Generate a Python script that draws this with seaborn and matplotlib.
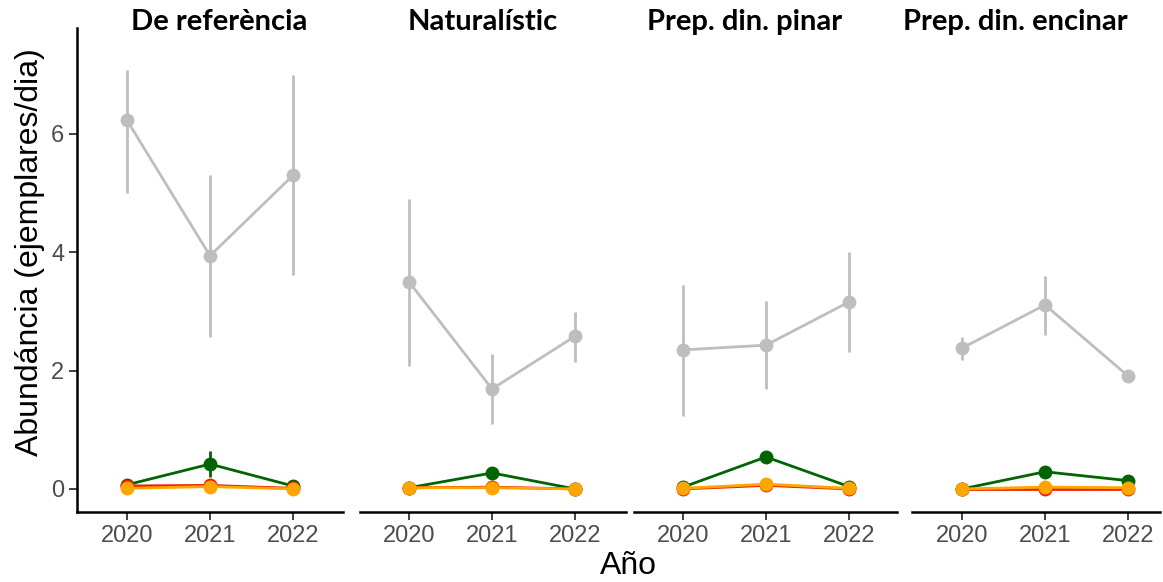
import matplotlib
matplotlib.use("Agg")
import matplotlib.pyplot as plt
import seaborn as sns
import pandas as pd
import numpy as np

years = [2020, 2021, 2022]
panels = ["De referència", "Naturalístic", "Prep. din. pinar", "Prep. din. encinar"]

# gray series (mean, lower, upper)
gray_mean = [[6.23, 3.94, 5.30], [3.50, 1.69, 2.58], [2.35, 2.43, 3.16], [2.38, 3.11, 1.91]]
gray_low = [[5.00, 2.57, 3.61], [2.08, 1.10, 2.15], [1.23, 1.69, 2.31], [2.18, 2.60, 1.85]]
gray_high = [[7.08, 5.30, 7.00], [4.90, 2.28, 2.99], [3.45, 3.18, 4.00], [2.57, 3.60, 1.97]]

green_mean = [[0.07, 0.42, 0.05], [0.02, 0.27, 0.00], [0.03, 0.54, 0.04], [0.00, 0.29, 0.14]]
green_low = [[0.03, 0.20, 0.02], [0.00, 0.20, 0.00], [0.00, 0.46, 0.01], [0.00, 0.24, 0.10]]
green_high = [[0.11, 0.64, 0.08], [0.04, 0.34, 0.01], [0.06, 0.62, 0.07], [0.01, 0.34, 0.18]]

red_mean = [[0.05, 0.06, 0.01], [0.02, 0.03, 0.00], [0.00, 0.06, 0.00], [0.00, 0.00, 0.00]]
orange_mean = [[0.01, 0.04, 0.00], [0.02, 0.02, 0.00], [0.01, 0.08, 0.01], [0.00, 0.03, 0.02]]

sns.set_theme(style="white")
plt.rcParams['font.family'] = ['Liberation Sans', 'DejaVu Sans']

W, H = 1163, 582
fig = plt.figure(figsize=(W / 100, H / 100), dpi=100)

# panel pixel boxes (left, right) and year scale
px_per_year = 83.0
left_px = [77, 360, 634, 912]
right_px = [343, 626, 897, 1160]
first_tick_px = [127, 409, 683, 962]
title_cx_px = [219, 483, 745, 1015]
top_px, bottom_px = 28, 512

series = [
    ("#BEBEBE", gray_mean, gray_low, gray_high),
    ("#006400", green_mean, green_low, green_high),
    ("#EE2200", red_mean, None, None),
    ("#FFA500", orange_mean, None, None),
]

axes = []
for i, name in enumerate(panels):
    l, r = left_px[i], right_px[i]
    ax = fig.add_axes([l / W, 1 - bottom_px / H, (r - l) / W, (bottom_px - top_px) / H])
    axes.append(ax)
    for color, mean, low, high in series:
        df = pd.DataFrame({"year": years, "val": mean[i]})
        if low is not None:
            ax.vlines(years, low[i], high[i], color=color, lw=2.0, zorder=2)
        sns.lineplot(data=df, x="year", y="val", ax=ax, color=color, lw=2.0,
                     marker="o", markersize=10, markeredgewidth=0, zorder=3)
    x0 = 2020 - (first_tick_px[i] - l) / px_per_year
    x1 = 2020 + (r - first_tick_px[i]) / px_per_year
    ax.set_xlim(x0, x1)
    ax.set_ylim(-0.39, 7.79)
    ax.set_xticks(years)
    ax.set_xticklabels([str(y) for y in years], fontsize=17, color="#4D4D4D")
    ax.set_xlabel("")
    ax.set_ylabel("")
    fig.text(title_cx_px[i] / W, 1 - 22 / H, name, fontsize=21, fontweight="bold",
             color="black", ha="center", va="center", family=['Lato', 'DejaVu Sans'])
    for s in ["top", "right"]:
        ax.spines[s].set_visible(False)
    ax.spines["bottom"].set_color("black")
    ax.spines["bottom"].set_linewidth(1.8)
    ax.tick_params(axis="x", bottom=True, length=6, width=1.3, color="#333333", pad=3)
    if i == 0:
        ax.spines["left"].set_color("black")
        ax.spines["left"].set_linewidth(1.8)
        ax.set_yticks([0, 2, 4, 6])
        ax.set_yticklabels(["0", "2", "4", "6"], fontsize=17, color="#4D4D4D")
        ax.tick_params(axis="y", left=True, length=6, width=1.3, color="#333333", pad=3)
    else:
        ax.spines["left"].set_visible(False)
        ax.tick_params(axis="y", left=False, labelleft=False)
    ax.grid(False)

fig.text(30 / W, 1 - 252 / H, "Abundáncia (ejemplares/dia)", fontsize=23, rotation=90,
         ha="center", va="center", color="black")
fig.text(628 / W, 1 - 566 / H, "Año", fontsize=23, ha="center", va="center", color="black")

fig.savefig("out.png", dpi=100)
